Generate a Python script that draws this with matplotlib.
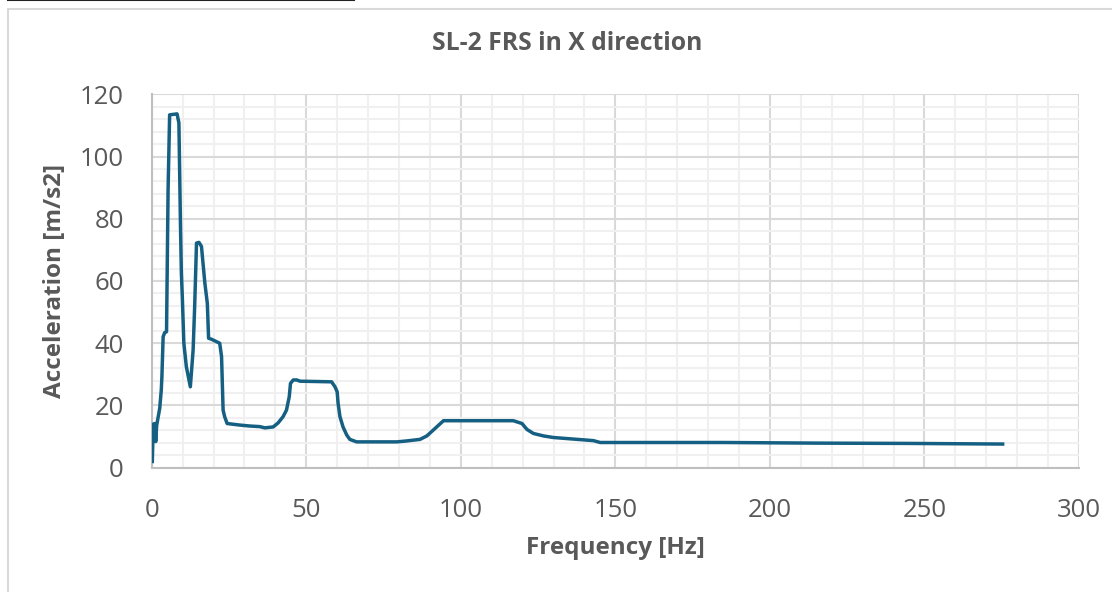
import matplotlib
matplotlib.use("Agg")
import matplotlib.pyplot as plt
from matplotlib.patches import Rectangle
from matplotlib.lines import Line2D
from matplotlib.ticker import MultipleLocator

title = "SL-2 FRS in X direction"
x_label = "Frequency [Hz]"
y_label = "Acceleration [m/s2]"

freq = [0.2, 0.5, 1.0, 1.3, 1.6, 2.0, 2.6, 3.1, 3.3, 3.5, 3.7, 4.2, 4.8, 5.3, 5.8,
        8.2, 8.8, 9.3, 9.6, 9.9, 10.4, 11.2, 12.5, 13.4, 13.9, 14.5, 15.3, 16.1,
        17.2, 18.0, 18.4, 19.3, 22.0, 22.6, 23.1, 23.6, 24.4, 28.5, 31.7, 35.0,
        36.6, 39.3, 40.9, 42.5, 43.6, 44.5, 44.9, 45.8, 46.9, 48.0, 58.2, 59.3,
        60.0, 60.3, 60.9, 61.9, 63.1, 64.1, 66.3, 79.3, 82.5, 86.8, 89.0, 91.1,
        94.4, 117.0, 119.8, 121.4, 123.5, 126.8, 130.0, 142.9, 145.1, 185.0,
        215.0, 245.0, 275.3]
accel = [2.0, 14.0, 14.2, 8.4, 13.5, 15.8, 19.1, 25.0, 29.2, 35.7, 42.1, 43.4, 43.7,
         89.3, 113.4, 113.7, 110.8, 78.5, 62.5, 55.0, 40.0, 32.5, 26.0, 37.8, 51.8,
         72.2, 72.4, 71.1, 59.3, 52.8, 41.6, 41.3, 40.0, 35.7, 18.5, 16.4, 14.2,
         13.7, 13.4, 13.2, 12.8, 13.1, 14.4, 16.4, 18.5, 22.8, 27.1, 28.2, 28.2,
         27.8, 27.6, 26.0, 24.4, 20.7, 16.4, 13.1, 10.5, 9.1, 8.3, 8.3, 8.6, 9.1,
         10.2, 12.1, 15.1, 15.1, 14.2, 12.3, 11.0, 10.2, 9.7, 8.7, 8.1, 8.1, 7.9,
         7.8, 7.6]

txt = "#595959"
font = ["Open Sans", "DejaVu Sans"]
plt.rcParams["font.family"] = font

fig = plt.figure(figsize=(11.12, 5.92), dpi=100)
W, H = 1112, 592
left, right, top, bottom = 151.7, 1079, 94.3, 467.7
ax = fig.add_axes([left / W, 1 - bottom / H, (right - left) / W, (bottom - top) / H])

# chart border and top artifact line
fig.patches.append(Rectangle((8 / W, -0.01), 1.1, 1 - 9 / H + 0.01, transform=fig.transFigure,
                             fill=False, edgecolor="#d9d9d9", linewidth=1.5))
fig.lines.append(Line2D([8 / W, 354 / W], [0.9995, 0.9995], transform=fig.transFigure,
                        color="#222222", linewidth=1.5))

ax.plot(freq, accel, color="#156082", linewidth=2.5, solid_joinstyle="round", zorder=3)

ax.set_xlim(0, 300)
ax.set_ylim(0, 120)
ax.xaxis.set_major_locator(MultipleLocator(50))
ax.xaxis.set_minor_locator(MultipleLocator(10))
ax.yaxis.set_major_locator(MultipleLocator(20))
ax.yaxis.set_minor_locator(MultipleLocator(4))
ax.grid(which="major", color="#d9d9d9", linewidth=1.5, zorder=1)
ax.grid(which="minor", color="#f0f0f0", linewidth=1.5, zorder=0)
ax.set_axisbelow(True)
for s in ["top", "right"]:
    ax.spines[s].set_visible(False)
for s in ["left", "bottom"]:
    ax.spines[s].set_color("#bfbfbf")
    ax.spines[s].set_linewidth(1.5)
ax.tick_params(which="both", length=0, labelsize=18.5, labelcolor=txt)
ax.tick_params(axis="x", pad=21.5)
ax.tick_params(axis="y", pad=20)

ax.set_xlabel(x_label, fontsize=17.5, fontweight="bold", color=txt, labelpad=10)
ax.set_ylabel(y_label, fontsize=17.5, fontweight="bold", color=txt, labelpad=9)
fig.text(566.7 / W, 1 - 43 / H, title, ha="center", va="center", fontsize=17.8,
         fontweight="bold", color=txt)

fig.savefig("out.png", dpi=100)
